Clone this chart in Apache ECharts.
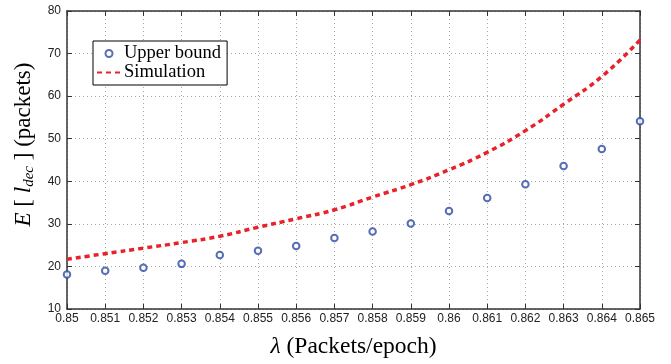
<!DOCTYPE html>
<html>
<head>
<meta charset="utf-8">
<script src="https://cdn.jsdelivr.net/npm/echarts@6/dist/echarts.min.js"></script>
<style>
  html, body { margin: 0; padding: 0; background: #fff; }
  #chart { width: 671px; height: 364px; }
</style>
</head>
<body>
<div id="chart"></div>
<script>
// lambda values (packets/epoch)
const lambdas = [0.85, 0.851, 0.852, 0.853, 0.854, 0.855, 0.856, 0.857,
  0.858, 0.859, 0.86, 0.861, 0.862, 0.863, 0.864, 0.865];
const upperBound = [18.1, 19.0, 19.7, 20.6, 22.7, 23.7, 24.8, 26.7,
  28.2, 30.1, 33.0, 36.1, 39.3, 43.6, 47.6, 54.1];
const simulation = [21.7, 23.0, 24.3, 25.6, 27.1, 29.2, 31.2, 33.3,
  36.3, 39.2, 42.7, 46.8, 51.9, 58.1, 64.6, 73.2];

const axisColor = "#333";
const serif = "Liberation Serif";
const sans = "Liberation Sans";
const blue = "#2a4aa2";
const red = "#e8222a";

const chart = echarts.init(document.getElementById("chart"));

const tickFmt = (v) => String(+v.toFixed(3));

chart.setOption({
  animation: false,
  grid: { left: 67, right: 31, top: 11, bottom: 43 },
  legend: {
    orient: "vertical",
    left: 93,
    top: 41,
    padding: [3, 6, 3, 3],
    itemGap: 0,
    itemWidth: 24,
    itemHeight: 7,
    borderColor: "#000",
    borderWidth: 1,
    borderRadius: 0,
    backgroundColor: "#fff",
    textStyle: { fontFamily: serif, fontSize: 18.5, lineHeight: 14, color: "#000", padding: [0, 0, 0, -2] },
    data: [
      { name: "Upper bound" },
      { name: "Simulation", itemStyle: { opacity: 0 } },
    ],
  },
  xAxis: [
    {
      type: "value",
      min: 0.85,
      max: 0.865,
      interval: 0.001,
      name: "{l|λ} (Packets/epoch)",
      nameLocation: "middle",
      nameGap: 26,
      nameTextStyle: {
        fontFamily: serif,
        fontSize: 23.5,
        color: "#000",
        rich: { l: { fontFamily: serif, fontStyle: "italic", fontSize: 23.5 } },
      },
      axisLine: { lineStyle: { color: axisColor, width: 1.5 } },
      axisTick: { inside: true, length: 5, lineStyle: { color: axisColor } },
      axisLabel: { formatter: tickFmt, fontFamily: sans, fontSize: 12, color: "#222", margin: 4 },
      splitLine: { show: true, lineStyle: { color: "#aaa", type: [1, 3] } },
    },
    {
      type: "value",
      position: "top",
      min: 0.85,
      max: 0.865,
      interval: 0.001,
      axisLine: { show: true, lineStyle: { color: axisColor, width: 1.5 } },
      axisTick: { show: true, inside: true, length: 5, lineStyle: { color: axisColor } },
      axisLabel: { show: false },
      splitLine: { show: false },
    },
  ],
  yAxis: [
    {
      type: "value",
      min: 10,
      max: 80,
      interval: 10,
      name: "{i|E} [ {i|l}{s|dec} ] (packets)",
      nameLocation: "middle",
      nameGap: 17,
      nameRotate: 90,
      nameTextStyle: {
        fontFamily: serif,
        fontSize: 23,
        lineHeight: 26,
        color: "#000",
        padding: [0, 0, 0, 31],
        rich: {
          i: { fontFamily: serif, fontStyle: "italic", fontSize: 23, lineHeight: 26 },
          s: { fontFamily: serif, fontStyle: "italic", fontSize: 15, lineHeight: 10, verticalAlign: "bottom" },
        },
      },
      axisLine: { show: true, lineStyle: { color: axisColor, width: 1.5 } },
      axisTick: { show: true, inside: true, length: 5, lineStyle: { color: axisColor } },
      axisLabel: { fontFamily: sans, fontSize: 12, color: "#222", margin: 6 },
      splitLine: { show: true, lineStyle: { color: "#aaa", type: [1, 3] } },
    },
    {
      type: "value",
      position: "right",
      min: 10,
      max: 80,
      interval: 10,
      axisLine: { show: true, lineStyle: { color: axisColor, width: 1.5 } },
      axisTick: { show: true, inside: true, length: 5, lineStyle: { color: axisColor } },
      axisLabel: { show: false },
      splitLine: { show: false },
    },
  ],
  series: [
    {
      name: "Simulation",
      type: "line",
      smooth: true,
      showSymbol: false,
      symbol: "none",
      data: lambdas.map((x, i) => [x, simulation[i]]),
      lineStyle: { color: red, width: 3.5, type: [5, 4] },
      itemStyle: { color: red },
      z: 2,
    },
    {
      name: "Upper bound",
      type: "scatter",
      symbol: "emptyCircle",
      symbolSize: 6.5,
      data: lambdas.map((x, i) => [x, upperBound[i]]),
      itemStyle: { color: blue, borderColor: blue, borderWidth: 3 },
      z: 3,
    },
  ],
});
</script>
</body>
</html>
